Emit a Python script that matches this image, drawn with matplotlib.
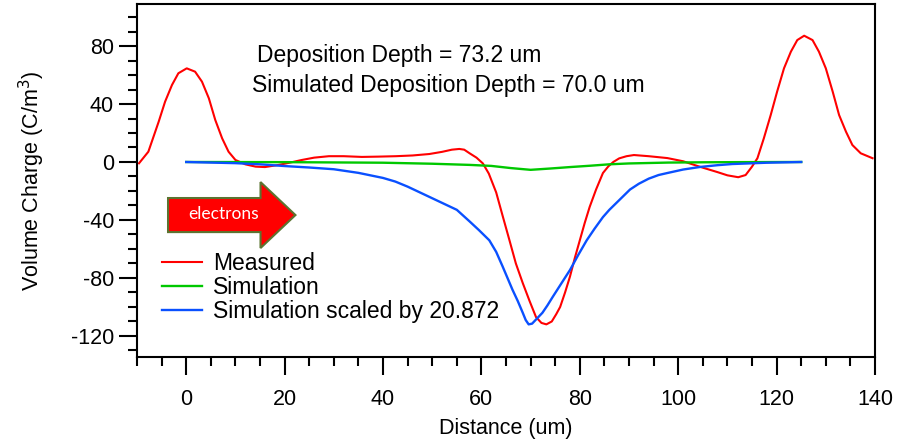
import numpy as np
import matplotlib.pyplot as plt
from matplotlib.patches import FancyArrow
from matplotlib.ticker import MultipleLocator

plt.rcParams['font.family'] = ['Liberation Sans', 'DejaVu Sans']
plt.rcParams['axes.unicode_minus'] = False

# measured volume charge
meas_x = [-9.6, -7.7, -5.6, -4.3, -2.9, -1.6, 0.1, 1.8, 3.2, 4.6, 5.9, 7.3, 8.6, 10, 12, 14.1,
          16, 18.8, 21, 23.5, 26, 29, 32, 35.7, 39, 42.6, 46, 49.4, 52, 54, 55.5, 56.5,
          57.6, 59, 60.3, 61.5, 63, 64.3, 65.7, 67, 68.4, 69.8, 71.1, 72.2, 73.2, 74.3,
          75.2, 76, 77, 78, 79, 80, 81, 82, 83.3, 84.7, 85.8, 86.8, 88, 89.5, 91, 94,
          97.8, 101, 104.5, 108, 110, 112.2, 113.7, 115, 116.1, 117.4, 118.8, 120.1,
          121.5, 122.9, 124.2, 125.6, 127.3, 128.6, 130, 131.4, 132.7, 134.1, 135.4,
          137.1, 139.5]
meas_y = [-0.9, 7.1, 27.8, 41.6, 53.1, 61.2, 64.6, 62.3, 55.4, 43.9, 29, 16.3, 7.1, 1.4, -1.6, -3.2,
          -3.5, -2, -0.5, 1.4, 3, 4, 4, 3.5, 3.7, 4, 4.5, 5.5, 7, 8.5, 9, 8.5,
          6, 3, -1, -8, -21, -37, -54, -70, -83.5, -96, -107, -111, -112, -110,
          -105, -100, -90, -79, -66, -54, -42, -31, -19, -7.6, -3, 0, 2.5, 4, 4.8, 4,
          2.7, 0.5, -3.4, -7, -9.2, -10.5, -9, -3.2, 2.6, 16.3, 32.4, 48.5,
          64.6, 76.1, 84.1, 87.1, 84.1, 76.1, 64.6, 48.5, 32.4, 20.9, 11.7,
          6, 2.6]

# simulation
sim_x = [0, 20, 40, 50, 57.6, 62, 66, 70, 74, 78, 82, 86, 90, 98, 105, 112, 125]
sim_y = [0, -0.1, -0.5, -1.2, -2.0, -2.7, -4.2, -5.4, -4.5, -3.5, -2.6, -1.6, -1.0, -0.4, -0.2, -0.1, 0]

# simulation scaled by 20.872
scl_x = [0, 5, 10, 15, 20, 25, 30, 35, 40, 42.5, 45, 47.5, 50, 52.5, 55, 57.6, 59.5, 61.6,
         63, 64.3, 65.3, 66.3, 67.4, 68.4, 69, 69.6, 70.3, 71, 72.4, 73.4, 74.5, 76.2, 78,
         79.7, 81.4, 83, 84.7, 86, 87.5, 89, 90.2, 92, 94, 96, 97.8, 101, 104.5, 108, 111,
         118, 125]
scl_y = [0, -0.4, -0.8, -1.6, -2.8, -3.8, -5, -7.5, -11, -13.5, -17, -21, -25, -29, -33, -41, -47, -54,
         -62, -72, -80, -88, -96, -104, -109, -112, -111.5, -109, -104, -99, -93, -84, -74.5,
         -64, -54, -46, -38, -33, -28, -23, -19, -15, -11.5, -9, -7.6, -5.2, -3.4, -2.2, -1.4,
         -0.5, 0]

fig = plt.figure(figsize=(8.98, 4.41), dpi=100)
ax = fig.add_axes([0.1526, 0.1905, 0.8218, 0.8005])

ax.plot(meas_x, meas_y, color='#ff0000', lw=1.5, label='Measured')
ax.plot(sim_x, sim_y, color='#00c800', lw=1.7, label='Simulation')
ax.plot(scl_x, scl_y, color='#0a50ff', lw=1.7, label='Simulation scaled by 20.872')

ax.set_xlim(-10, 140)
ax.set_ylim(-134.5, 109)
ax.xaxis.set_major_locator(MultipleLocator(20))
ax.xaxis.set_minor_locator(MultipleLocator(5))
ax.yaxis.set_major_locator(MultipleLocator(40))
ax.yaxis.set_minor_locator(MultipleLocator(10))
ax.tick_params(which='major', direction='out', length=13, width=1.5, labelsize=15.5)
ax.tick_params(which='minor', direction='out', length=6.5, width=1.5)
ax.tick_params(axis='x', which='major', pad=10)
for s in ax.spines.values():
    s.set_linewidth(1.5)

ax.set_xlabel('Distance (um)', fontsize=15.5, labelpad=6)
ax.set_ylabel('Volume Charge (C/m$^3$)', fontsize=15.5, labelpad=17)

ax.text(14.3, 73.8, 'Deposition Depth = 73.2 um', fontsize=16.5, ha='left', va='center')
ax.text(13.3, 53.1, 'Simulated Deposition Depth = 70.0 um', fontsize=16.5, ha='left', va='center')

# electrons arrow
arr = FancyArrow(-3.7, -36.6, 25.9, 0, width=23.5, head_width=45.5, head_length=7.1,
                 length_includes_head=True, facecolor='#ff0000', edgecolor='#5b7330', lw=1.5)
ax.add_patch(arr)
ax.text(7.6, -35.9, 'electrons', color='white', fontsize=12.5, ha='center', va='center',
        family=['Lato', 'DejaVu Sans'])

ax.legend(loc='upper left', bbox_to_anchor=(0.034, 0.298), frameon=False, fontsize=16.5,
          handlelength=1.75, handletextpad=0.48, labelspacing=0.05, borderpad=0, borderaxespad=0)

fig.savefig('out.png', dpi=100)
